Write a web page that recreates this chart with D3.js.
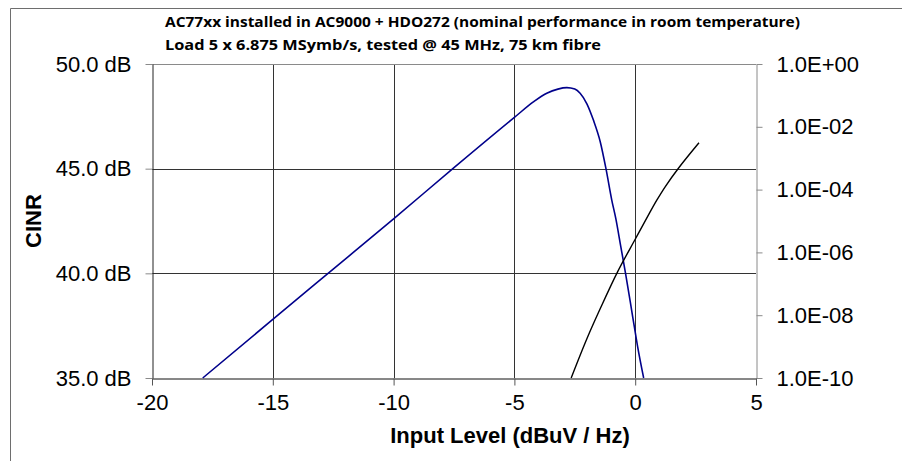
<!DOCTYPE html>
<html>
<head>
<meta charset="utf-8">
<script src="https://cdn.jsdelivr.net/npm/d3@7"></script>
<style>
  body { margin: 0; background: #fff; }
  svg text { font-family: "Liberation Sans", Arial, sans-serif; }
</style>
</head>
<body>
<div id="chart"></div>
<script>
// ---------------------------------------------------------------------------
// data
// ---------------------------------------------------------------------------

const titleLines = [
  "AC77xx installed in AC9000 + HDO272 (nominal performance in room temperature)",
  "Load 5 x 6.875 MSymb/s, tested @ 45 MHz, 75 km fibre"
];

// CINR curve (input level dBuV/Hz, CINR dB)
const cinrX = [-17.9, -15, -12.5, -10, -7.5, -5, -4.2, -3.66, -3.2, -2.83, -2.5, -2.28,
               -2.0, -1.73, -1.45, -1.21, -0.97, -0.8, -0.6, -0.4, -0.1, 0.1, 0.35];
const cinrY = [35, 37.8, 40.2, 42.6, 45.05, 47.45, 48.2, 48.6, 48.8, 48.87, 48.8, 48.6,
               48.1, 47.32, 46.3, 45, 43.5, 42.6, 41.3, 40, 37.9, 36.5, 35];

// BER curve (input level, BER on right log axis)
const berX = [-2.65, -2.0, -1.45, -0.73, 0, 0.59, 0.9, 1.24, 1.79, 2.64];
const berY = [1.0e-10, 1.78e-9, 1.6e-8, 2.4e-7, 2.63e-6, 1.78e-5, 4.68e-5, 1.23e-4, 4.79e-4, 3.09e-3];

const xTicks = [-20, -15, -10, -5, 0, 5];
const yLeftTicks = [35, 40, 45, 50];
const yRightTicks = [1e-10, 1e-8, 1e-6, 1e-4, 1e-2, 1];
const yRightLabels = ["1.0E-10", "1.0E-08", "1.0E-06", "1.0E-04", "1.0E-02", "1.0E+00"];

// ---------------------------------------------------------------------------
// drawing
// ---------------------------------------------------------------------------

const width = 902, height = 461;
const plot = { left: 152, right: 756, top: 64, bottom: 378 };

const svg = d3.select("#chart").append("svg")
  .attr("width", width)
  .attr("height", height);

const x = d3.scaleLinear().domain([-20, 5]).range([plot.left, plot.right]);
const yL = d3.scaleLinear().domain([35, 50]).range([plot.bottom, plot.top]);
const yR = d3.scaleLog().domain([1e-10, 1]).range([plot.bottom, plot.top]);

// outer frame (only left/top visible in the picture)
svg.append("path")
  .attr("d", `M10.5,${height + 5}V8.5H${width + 5}`)
  .attr("fill", "none")
  .attr("stroke", "#6e6e6e");

// gridlines
svg.append("g")
  .selectAll("line")
  .data(xTicks.filter(d => d > -20 && d < 5))
  .join("line")
    .attr("x1", d => Math.round(x(d)) + 0.5)
    .attr("x2", d => Math.round(x(d)) + 0.5)
    .attr("y1", plot.top)
    .attr("y2", plot.bottom)
    .attr("stroke", "#333");

svg.append("g")
  .selectAll("line")
  .data(yLeftTicks.filter(d => d > 35 && d < 50))
  .join("line")
    .attr("x1", plot.left)
    .attr("x2", plot.right)
    .attr("y1", d => Math.round(yL(d)) + 0.5)
    .attr("y2", d => Math.round(yL(d)) + 0.5)
    .attr("stroke", "#333");

// top border
svg.append("line")
  .attr("x1", plot.left).attr("x2", plot.right)
  .attr("y1", plot.top + 0.5).attr("y2", plot.top + 0.5)
  .attr("stroke", "#8a8a8a");

// axes
function styleAxis(g, lineColor, tickColor) {
  g.select(".domain").attr("stroke", lineColor);
  g.selectAll(".tick line").attr("stroke", tickColor);
  g.selectAll(".tick text")
    .attr("fill", "#000")
    .style("font-size", "22px");
}

svg.append("g")
  .attr("transform", `translate(${plot.left + 0.5},0)`)
  .call(d3.axisLeft(yL).tickValues(yLeftTicks).tickSize(7).tickSizeOuter(0)
    .tickFormat(d => d3.format(".1f")(d) + " dB").tickPadding(14))
  .call(g => styleAxis(g, "#222", "#8a8a8a"));

svg.append("g")
  .attr("transform", `translate(${plot.right + 0.5},0)`)
  .call(d3.axisRight(yR).tickValues(yRightTicks).tickSize(6).tickSizeOuter(0)
    .tickFormat((d, i) => yRightLabels[i]).tickPadding(14))
  .call(g => styleAxis(g, "#8a8a8a", "#8a8a8a"));

svg.append("g")
  .attr("transform", `translate(0,${plot.bottom + 0.5})`)
  .call(d3.axisBottom(x).tickValues(xTicks).tickSize(7).tickSizeOuter(0)
    .tickFormat(d3.format("d")).tickPadding(9))
  .call(g => styleAxis(g, "#111", "#555"));

// plain hyphen minus like the reference
svg.selectAll(".tick text").text(function() { return d3.select(this).text().replace("−", "-"); });

// curves
const cinrData = cinrX.map((d, i) => [d, cinrY[i]]);
const berData = berX.map((d, i) => [d, berY[i]]);

svg.append("path")
  .datum(cinrData)
  .attr("fill", "none")
  .attr("stroke", "#00008b")
  .attr("stroke-width", 1.6)
  .attr("d", d3.line().x(d => x(d[0])).y(d => yL(d[1])).curve(d3.curveMonotoneX));

svg.append("path")
  .datum(berData)
  .attr("fill", "none")
  .attr("stroke", "#000")
  .attr("stroke-width", 1.4)
  .attr("d", d3.line().x(d => x(d[0])).y(d => yR(d[1])).curve(d3.curveCatmullRom.alpha(0.5)));

// titles
svg.append("g")
  .selectAll("text")
  .data(titleLines)
  .join("text")
    .attr("x", 165)
    .attr("y", (d, i) => 27 + i * 23)
    .attr("textLength", (d, i) => i === 0 ? 635 : 436)
    .attr("lengthAdjust", "spacingAndGlyphs")
    .style("font-family", "'Open Sans', 'Noto Sans', sans-serif")
    .style("font-weight", "bold")
    .style("font-size", "14.5px")
    .text(d => d);

svg.append("text")
  .attr("x", 510)
  .attr("y", 443)
  .attr("text-anchor", "middle")
  .style("font-weight", "bold")
  .style("font-size", "22px")
  .text("Input Level (dBuV / Hz)");

svg.append("text")
  .attr("transform", `translate(41,${(plot.top + plot.bottom) / 2}) rotate(-90)`)
  .attr("text-anchor", "middle")
  .style("font-weight", "bold")
  .style("font-size", "22px")
  .text("CINR");
</script>
</body>
</html>
